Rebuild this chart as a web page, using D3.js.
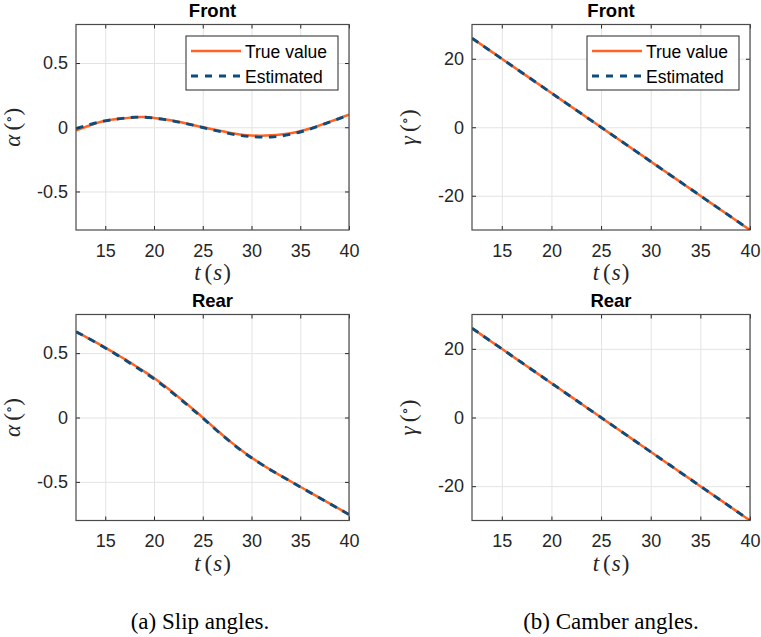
<!DOCTYPE html>
<html>
<head>
<meta charset="utf-8">
<script src="https://cdn.jsdelivr.net/npm/d3@7"></script>
<style>
  body { margin: 0; background: #fff; }
  svg { display: block; }
</style>
</head>
<body>
<svg id="fig" width="761" height="637"></svg>
<script>
// Sample times (s)
const time = [12,13,14,15,16,17,18,19,20,21,22,23,24,25,26,27,28,29,30,31,32,33,34,35,36,37,38,39,40];

// Front slip angle (deg)
const slipFrontTrue = [-0.026,0.003,0.030,0.051,0.062,0.070,0.078,0.079,0.072,0.062,0.050,0.035,0.018,0.000,-0.016,-0.031,-0.047,-0.058,-0.064,-0.066,-0.063,-0.057,-0.046,-0.031,-0.010,0.015,0.042,0.070,0.098];
const slipFrontEst  = [-0.010,0.012,0.033,0.050,0.062,0.071,0.078,0.078,0.071,0.061,0.048,0.033,0.016,-0.002,-0.020,-0.037,-0.053,-0.065,-0.073,-0.077,-0.076,-0.069,-0.055,-0.037,-0.014,0.012,0.040,0.068,0.095];

// Rear slip angle (deg)
const slipRearTrue = [0.667,0.627,0.586,0.543,0.499,0.453,0.406,0.357,0.306,0.250,0.191,0.129,0.065,0.000,-0.068,-0.134,-0.197,-0.256,-0.311,-0.361,-0.408,-0.452,-0.495,-0.538,-0.581,-0.624,-0.667,-0.710,-0.753];
const slipRearEst  = [0.666,0.626,0.584,0.540,0.495,0.448,0.400,0.351,0.300,0.244,0.185,0.124,0.060,-0.005,-0.072,-0.138,-0.200,-0.259,-0.313,-0.362,-0.409,-0.453,-0.496,-0.539,-0.582,-0.625,-0.668,-0.711,-0.754];

// Camber angles (deg)
const camberFrontTrue = [26,24,22,20,18,16,14,12,10,8,6,4,2,0,-2,-4,-6,-8,-10,-12,-14,-16,-18,-20,-22,-24,-26,-28,-30];
const camberFrontEst  = [26,24,22,20,18,16,14,12,10,8,6,4,2,0,-2,-4,-6,-8,-10,-12,-14,-16,-18,-20,-22,-24,-26,-28,-30];
const camberRearTrue  = [26,24,22,20,18,16,14,12,10,8,6,4,2,0,-2,-4,-6,-8,-10,-12,-14,-16,-18,-20,-22,-24,-26,-28,-30];
const camberRearEst   = [26,24,22,20,18,16,14,12,10,8,6,4,2,0,-2,-4,-6,-8,-10,-12,-14,-16,-18,-20,-22,-24,-26,-28,-30];

// Axis ticks
const timeTicks = [15,20,25,30,35,40];
const slipTicks = [-0.5,0,0.5];
const slipTickLabels = ["-0.5","0","0.5"];
const camberTicks = [-20,0,20];
const camberTickLabels = ["-20","0","20"];

const seriesNames = ["True value","Estimated"];
const captions = ["(a) Slip angles.","(b) Camber angles."];

const COL_TRUE = "#ff6424";
const COL_EST = "#0d4c7c";
const AX_COL = "#262626";
const SERIF = "'Liberation Serif', 'DejaVu Serif', serif";
const SANS = "'Liberation Sans', Arial, sans-serif";

const svg = d3.select("#fig");

const panels = [
  { title: "Front", left: 76,  right: 349, top: 24.5,  bottom: 230,   yDom: [-0.8,0.8], ticks: slipTicks,   labels: slipTickLabels,   sym: "α", tv: slipFrontTrue,   ev: slipFrontEst,   legend: true },
  { title: "Front", left: 472, right: 750, top: 24.5,  bottom: 230,   yDom: [-30,30],   ticks: camberTicks, labels: camberTickLabels, sym: "γ", tv: camberFrontTrue, ev: camberFrontEst, legend: true },
  { title: "Rear",  left: 76,  right: 349, top: 314.5, bottom: 520.5, yDom: [-0.8,0.8], ticks: slipTicks,   labels: slipTickLabels,   sym: "α", tv: slipRearTrue,    ev: slipRearEst,    legend: false },
  { title: "Rear",  left: 472, right: 750, top: 314.5, bottom: 520.5, yDom: [-30,30],   ticks: camberTicks, labels: camberTickLabels, sym: "γ", tv: camberRearTrue,  ev: camberRearEst,  legend: false }
];

panels.forEach((p, i) => {
  const w = p.right - p.left, h = p.bottom - p.top;
  const x = d3.scaleLinear().domain([12, 40]).range([0, w]);
  const y = d3.scaleLinear().domain(p.yDom).range([h, 0]);
  const g = svg.append("g").attr("transform", `translate(${p.left},${p.top})`);

  g.append("rect").attr("width", w).attr("height", h).attr("fill", "#fff");

  // grid
  const gx = g.append("g").attr("transform", `translate(0,${h})`)
    .call(d3.axisBottom(x).tickValues(timeTicks).tickSize(-h).tickFormat(""));
  const gy = g.append("g")
    .call(d3.axisLeft(y).tickValues(p.ticks).tickSize(-w).tickFormat(""));
  [gx, gy].forEach(a => {
    a.select(".domain").remove();
    a.selectAll("line").attr("stroke", "#e3e3e3").attr("stroke-width", 1);
  });

  // data lines
  const clipId = "clip" + i;
  g.append("clipPath").attr("id", clipId).append("rect").attr("width", w).attr("height", h);
  const line = vals => d3.line().curve(d3.curveCatmullRom.alpha(0.5))
    .x((d, k) => x(time[k])).y(d => y(d))(vals);
  const lines = g.append("g").attr("clip-path", `url(#${clipId})`);
  lines.append("path").attr("d", line(p.tv)).attr("fill", "none")
    .attr("stroke", COL_TRUE).attr("stroke-width", 2.5);
  lines.append("path").attr("d", line(p.ev)).attr("fill", "none")
    .attr("stroke", COL_EST).attr("stroke-width", 2.9).attr("stroke-dasharray", "7.5,6.5");

  // axes with inward ticks
  const ab = g.append("g").attr("transform", `translate(0,${h})`)
    .call(d3.axisBottom(x).tickValues(timeTicks).tickSize(-4).tickPadding(14).tickFormat(d3.format("d")));
  const al = g.append("g")
    .call(d3.axisLeft(y).tickValues(p.ticks).tickSize(-4).tickPadding(8).tickFormat((d, k) => p.labels[k]));
  const at = g.append("g")
    .call(d3.axisTop(x).tickValues(timeTicks).tickSize(-4).tickFormat(""));
  const ar = g.append("g").attr("transform", `translate(${w},0)`)
    .call(d3.axisRight(y).tickValues(p.ticks).tickSize(-4).tickFormat(""));
  [ab, al, at, ar].forEach(a => {
    a.select(".domain").remove();
    a.selectAll("line").attr("stroke", AX_COL).attr("stroke-width", 1);
    a.selectAll("text").attr("fill", AX_COL).style("font-family", SANS).style("font-size", "18px");
  });

  g.append("rect").attr("width", w).attr("height", h).attr("fill", "none")
    .attr("stroke", "#4a4a4a").attr("stroke-width", 1.2);

  // title
  g.append("text").attr("x", w / 2).attr("y", -7.5).attr("text-anchor", "middle")
    .style("font-family", SANS).style("font-weight", "bold").style("font-size", "18.5px")
    .attr("fill", "#000").text(p.title);

  // x label: t (s)
  const xl = g.append("text").attr("x", w / 2).attr("y", h + 50).attr("text-anchor", "middle")
    .style("font-family", SERIF).style("font-size", "23px")
    .attr("fill", AX_COL);
  xl.append("tspan").style("font-style", "italic").text("t");
  xl.append("tspan").attr("dx", 4).text("(");
  xl.append("tspan").attr("dx", 1).style("font-style", "italic").text("s");
  xl.append("tspan").attr("dx", 1).text(")");

  // y label: symbol (degrees)
  const yl = g.append("text").attr("transform", `translate(${-56},${h / 2}) rotate(-90)`)
    .attr("text-anchor", "middle")
    .style("font-family", SERIF).style("font-size", "23px")
    .attr("fill", AX_COL);
  yl.append("tspan").style("font-style", "italic").text(p.sym);
  yl.append("tspan").attr("dx", 4).text("(");
  yl.append("tspan").attr("dy", -6).style("font-size", "15px").text("∘");
  yl.append("tspan").attr("dy", 6).text(")");

  // legend
  if (p.legend) {
    const lw = 152, lh = 54;
    const lg = g.append("g").attr("transform", `translate(${w - lw - 11},${11.5})`);
    lg.append("rect").attr("width", lw).attr("height", lh).attr("fill", "#fff")
      .attr("stroke", AX_COL).attr("stroke-width", 1);
    seriesNames.forEach((name, k) => {
      const yy = 15 + k * 25;
      lg.append("line").attr("x1", 5).attr("x2", 55).attr("y1", yy).attr("y2", yy)
        .attr("stroke", k === 0 ? COL_TRUE : COL_EST)
        .attr("stroke-width", k === 0 ? 2.5 : 2.9)
        .attr("stroke-dasharray", k === 0 ? null : "7,7");
      lg.append("text").attr("x", 59).attr("y", yy + 6.5)
        .style("font-family", SANS).style("font-size", "17.5px").attr("fill", "#000")
        .text(name);
    });
  }
});

// sub-captions
const capX = [200, 611];
captions.forEach((c, k) => {
  svg.append("text").attr("x", capX[k]).attr("y", 629).attr("text-anchor", "middle")
    .style("font-family", SERIF).style("font-size", "23px")
    .attr("fill", "#000").text(c);
});
</script>
</body>
</html>
